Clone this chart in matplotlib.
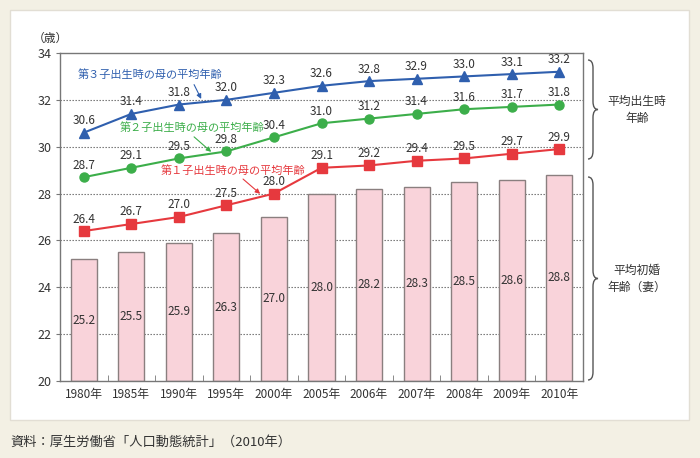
import matplotlib
matplotlib.use("Agg")
import matplotlib.pyplot as plt
import numpy as np
from matplotlib.path import Path
from matplotlib.patches import PathPatch, Rectangle

plt.rcParams['font.family'] = ['Noto Sans CJK JP', 'DejaVu Sans']

# ================= データ =================
years = ["1980年", "1985年", "1990年", "1995年", "2000年", "2005年",
         "2006年", "2007年", "2008年", "2009年", "2010年"]
marriage = [25.2, 25.5, 25.9, 26.3, 27.0, 28.0, 28.2, 28.3, 28.5, 28.6, 28.8]
first = [26.4, 26.7, 27.0, 27.5, 28.0, 29.1, 29.2, 29.4, 29.5, 29.7, 29.9]
second = [28.7, 29.1, 29.5, 29.8, 30.4, 31.0, 31.2, 31.4, 31.6, 31.7, 31.8]
third = [30.6, 31.4, 31.8, 32.0, 32.3, 32.6, 32.8, 32.9, 33.0, 33.1, 33.2]
# ==========================================

W, H = 700, 458
BG = "#f3f0e4"
BLUE = "#2f5fae"
GREEN = "#3cae4a"
RED = "#e6393e"
TXT = "#333333"

fig = plt.figure(figsize=(7, 4.58), dpi=100, facecolor=BG)

# 白いパネル
fig.patches.append(Rectangle((10 / W, 1 - 420 / H), 679 / W, 410 / H,
                             transform=fig.transFigure, facecolor="white",
                             edgecolor="#e2ded4", lw=1.0, zorder=-5))

ax = fig.add_axes([60 / W, 1 - 381 / H, 523 / W, 328 / H])
ax.set_facecolor("white")
x = np.arange(len(years))

ax.set_xlim(-0.5, len(years) - 0.5)
ax.set_ylim(20, 34)
ax.set_yticks(range(20, 35, 2))
for g in range(22, 34, 2):
    ax.axhline(g, color="#666666", ls=(0, (1.2, 1.5)), lw=0.8, zorder=1)

# 棒グラフ（平均初婚年齢）
ax.bar(x, np.array(marriage) - 20, bottom=20, width=0.55, color="#f9d3da",
       edgecolor="#8a7f7f", lw=1.0, zorder=2)
for xi, v in zip(x, marriage):
    ax.text(xi, (20 + v) / 2, f"{v:.1f}", ha="center", va="center",
            fontsize=8.5, color=TXT, zorder=3)

# 折れ線
series = [(third, BLUE, "^"), (second, GREEN, "o"), (first, RED, "s")]
for vals, col, mk in series:
    ax.plot(x, vals, color=col, lw=1.5, marker=mk, markersize=6.5,
            markeredgecolor=col, zorder=4)
    for xi, v in zip(x, vals):
        ax.annotate(f"{v:.1f}", (xi, v), xytext=(0, 4), textcoords="offset points",
                    ha="center", va="bottom", fontsize=8.5, color=TXT, zorder=5)

# 系列名と矢印
labels = [("第３子出生時の母の平均年齢", BLUE, (1.39, 33.06), (2.32, 32.65), (2.47, 32.04)),
          ("第２子出生時の母の平均年齢", GREEN, (2.27, 30.80), (2.32, 30.42), (2.68, 29.78)),
          ("第１子出生時の母の平均年齢", RED, (3.14, 28.98), (3.35, 28.62), (3.71, 27.99))]
for txt, col, tpos, tail, head in labels:
    ax.text(tpos[0], tpos[1], txt, color=col, fontsize=8, ha="center", va="center", zorder=6)
    ax.annotate("", xy=head, xytext=tail,
                arrowprops=dict(arrowstyle="-|>", color=col, lw=0.8,
                                mutation_scale=7, shrinkA=0, shrinkB=0), zorder=6)

# 軸の体裁
for s in ax.spines.values():
    s.set_color("#777777")
    s.set_linewidth(1.0)
ax.set_xticks(x)
ax.set_xticklabels(years, fontsize=8.5, color=TXT)
ax.tick_params(axis="x", length=0, pad=5)
ax.set_xticks(x[:-1] + 0.5, minor=True)
ax.tick_params(axis="x", which="minor", direction="in", length=4, color="#777777")
ax.tick_params(axis="y", length=3, color="#777777", labelsize=9, labelcolor=TXT, pad=3)

fig.text(50 / W, 1 - 38 / H, "（歳）", fontsize=8.5, color=TXT, ha="center", va="center")

# 右側の波括弧
def brace(x0, y_top, y_bot, w=10, r=8):
    xm = x0 + w / 2
    ym = (y_top + y_bot) / 2
    pts = [(x0, y_top), (xm, y_top), (xm, y_top + r),
           (xm, ym - r), (xm, ym), (x0 + w, ym),
           (xm, ym), (xm, ym + r),
           (xm, y_bot - r), (xm, y_bot), (x0, y_bot)]
    codes = [Path.MOVETO, Path.CURVE3, Path.CURVE3,
             Path.LINETO, Path.CURVE3, Path.CURVE3,
             Path.CURVE3, Path.CURVE3,
             Path.LINETO, Path.CURVE3, Path.CURVE3]
    pts = [(px / W, 1 - py / H) for px, py in pts]
    fig.patches.append(PathPatch(Path(pts, codes), transform=fig.transFigure,
                                 fill=False, edgecolor="#555555", lw=1.0))

brace(588, 60, 159)
brace(588, 177, 380)
fig.text(637 / W, 1 - 110 / H, "平均出生時\n年齢", fontsize=8.5, color=TXT,
         ha="center", va="center", linespacing=1.4)
fig.text(637 / W, 1 - 279 / H, "平均初婚\n年齢（妻）", fontsize=8.5, color=TXT,
         ha="center", va="center", linespacing=1.4)

fig.text(10 / W, 1 - 442 / H, "資料：厚生労働省「人口動態統計」（2010年）",
         fontsize=9.5, color=TXT, ha="left", va="center")

fig.savefig("out.png", dpi=100, facecolor=BG)
